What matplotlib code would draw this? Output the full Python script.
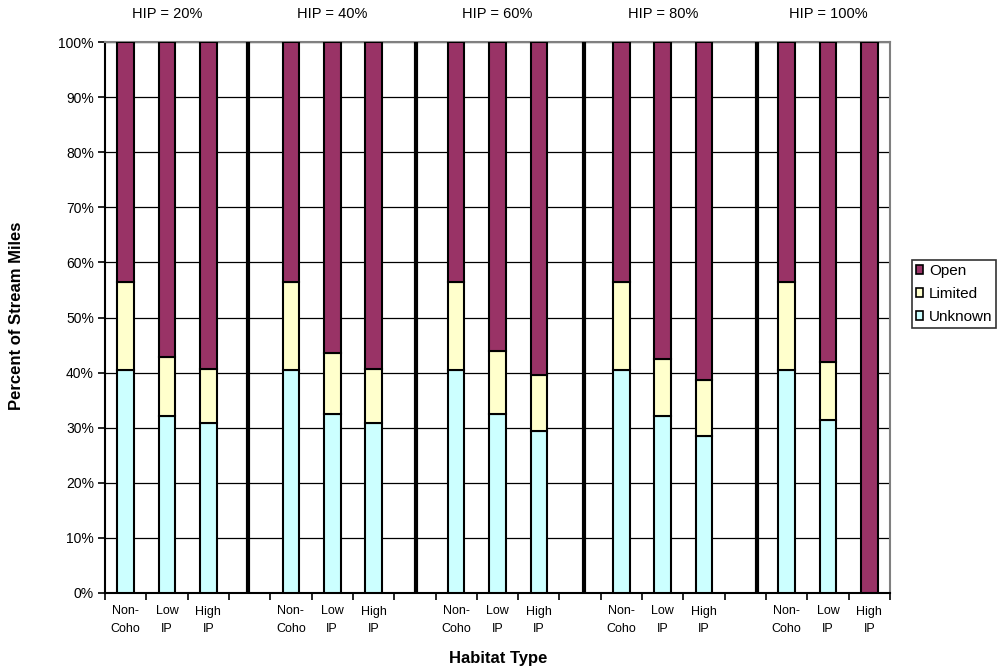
import numpy as np
import matplotlib
matplotlib.use("Agg")
import matplotlib.pyplot as plt
from matplotlib.patches import Patch

plt.rcParams['font.family'] = ['Liberation Sans', 'DejaVu Sans']

groups = ["HIP = 20%", "HIP = 40%", "HIP = 60%", "HIP = 80%", "HIP = 100%"]
habitats = ["Non-\nCoho", "Low\nIP", "High\nIP"]

# percent of stream miles, per group: [Non-Coho, Low IP, High IP]
unknown = [[40.4, 32.2, 30.8],
           [40.4, 32.5, 30.8],
           [40.4, 32.5, 29.4],
           [40.4, 32.2, 28.5],
           [40.4, 31.4, 0.0]]
limited = [[16.0, 10.7, 9.9],
           [16.0, 11.1, 9.9],
           [16.0, 11.4, 10.1],
           [16.0, 10.3, 10.1],
           [16.0, 10.5, 0.0]]
open_ = [[43.6, 57.1, 59.3],
         [43.6, 56.4, 59.3],
         [43.6, 56.1, 60.5],
         [43.6, 57.5, 61.4],
         [43.6, 58.1, 100.0]]

series_names = ["Open", "Limited", "Unknown"]
colors = {"Open": "#993366", "Limited": "#FFFFCC", "Unknown": "#CCFFFF"}

fig = plt.figure(figsize=(10.08, 6.71), dpi=100)
ax = fig.add_axes([105/1008, 1-593/671, (890-105)/1008, (593-42)/671])

slot = 4
xs, labels = [], []
for g in range(len(groups)):
    for k in range(len(habitats)):
        xs.append(g*slot + k)
        labels.append(habitats[k])
xs = np.array(xs)
u = np.array(unknown).ravel()
l = np.array(limited).ravel()
o = np.array(open_).ravel()

bw = 0.4
lw = 1.5
ax.bar(xs, u, bw, color=colors["Unknown"], edgecolor="black", linewidth=lw, zorder=3)
ax.bar(xs, l, bw, bottom=u, color=colors["Limited"], edgecolor="black", linewidth=lw, zorder=3)
ax.bar(xs, o, bw, bottom=u+l, color=colors["Open"], edgecolor="black", linewidth=lw, zorder=3)

ncat = len(groups)*slot - 1
ax.set_xlim(-0.5, ncat - 0.5)
ax.set_ylim(0, 100)

# group separators
for sx in [2.96, 7.02, 11.1, 15.27]:
    ax.axvline(sx, color="black", linewidth=3, zorder=4)

ax.set_yticks(np.arange(0, 101, 10))
ax.set_yticklabels([f"{v}%" for v in range(0, 101, 10)], fontsize=10)
ax.yaxis.grid(True, color="black", linewidth=0.9, zorder=0)
ax.set_axisbelow(True)
ax.tick_params(axis="y", direction="out", length=5, width=1.2, pad=3)

ax.set_xticks(xs)
ax.set_xticklabels(labels, fontsize=9, linespacing=1.6)
ax.tick_params(axis="x", which="major", length=0, pad=9)
ax.set_xticks(np.arange(-0.5, ncat, 1.0), minor=True)
ax.tick_params(axis="x", which="minor", direction="out", length=5, width=1.2)

for s in ["left", "bottom"]:
    ax.spines[s].set_color("black")
    ax.spines[s].set_linewidth(1.5)
for s in ["top", "right"]:
    ax.spines[s].set_color("#808080")
    ax.spines[s].set_linewidth(1.5)

for g, name in enumerate(groups):
    ax.text(g*slot + 1, 1.0 + 28/551, name, transform=ax.get_xaxis_transform(),
            ha="center", va="center", fontsize=10.5)

fig.text(17/1008, 1-316/671, "Percent of Stream Miles", rotation=90,
         ha="center", va="center", fontsize=12, fontweight="bold")
fig.text(498/1008, 1-659/671, "Habitat Type",
         ha="center", va="center", fontsize=12, fontweight="bold")

handles = [Patch(facecolor=colors[n], edgecolor="black", linewidth=1.2) for n in series_names]
leg = fig.legend(handles, series_names, loc="upper left",
                 bbox_to_anchor=(912/1008, 1-260/671), fontsize=11,
                 frameon=True, fancybox=False, handlelength=0.5, handleheight=0.5,
                 handletextpad=0.35, borderpad=0.25, labelspacing=0.6, borderaxespad=0)
leg.get_frame().set_edgecolor("black")
leg.get_frame().set_linewidth(1.2)

fig.savefig("out.png", dpi=100)
